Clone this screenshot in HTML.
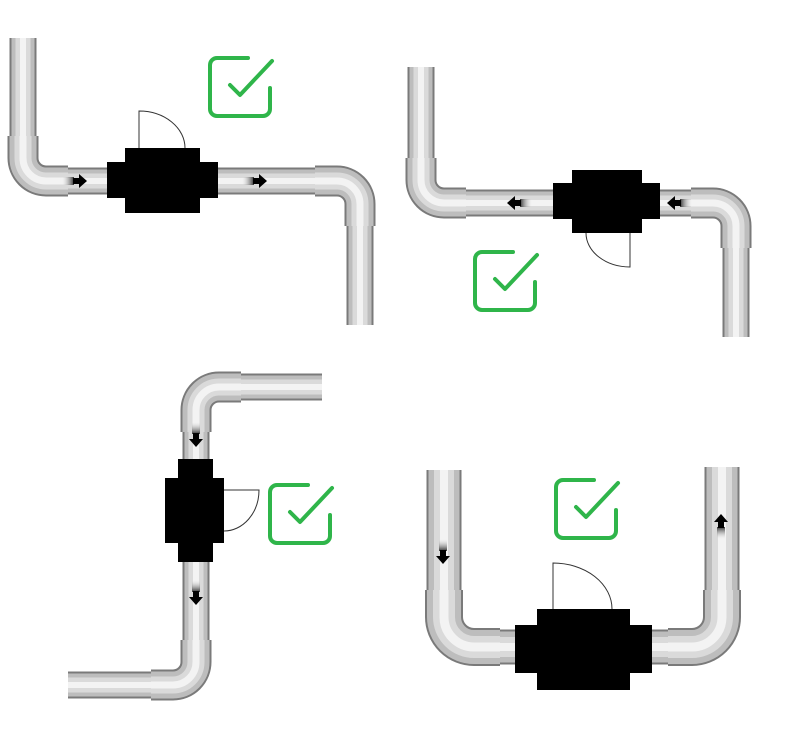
<!DOCTYPE html>
<html><head><meta charset="utf-8"><style>html,body{margin:0;padding:0;background:#fff}svg{display:block}</style></head>
<body>
<svg width="785" height="730" viewBox="0 0 785 730" xmlns="http://www.w3.org/2000/svg">
<defs>
<linearGradient id="tail" x1="0" y1="0" x2="1" y2="0">
<stop offset="0" stop-color="#ddd" stop-opacity="0"/><stop offset="1" stop-color="#333"/>
</linearGradient>
<g id="arr"><rect x="-18" y="-4" width="12" height="8" fill="url(#tail)"/><path d="M-7 -3 H-1 V-7 L7 0 L-1 7 V3 H-7Z" fill="#000"/></g>
<g id="cb" fill="none" stroke="#2fb54a" stroke-width="4" stroke-linecap="round" stroke-linejoin="round">
<path d="M40 2 H9 A7 7 0 0 0 2 9 V53 A7 7 0 0 0 9 60 H55 A7 7 0 0 0 62 53 V32"/>
<path d="M22 29 L32 39 L64 5"/>
</g>
</defs>
<g fill="none" stroke-linejoin="round">
<path id="a1" d="M23 38 V158 A23 23 0 0 0 46 181 H110 M215 181 H337 A23 23 0 0 1 360 204 V325 M421 67 V180 A23 23 0 0 0 444 203 H556 M656 203 H713 A23 23 0 0 1 736 226 V337 M322 387 H219 A23 23 0 0 0 196 410 V462 M196 560 V662 A23 23 0 0 1 173 685 H68"/>
<use href="#a1" stroke="#7a7a7a" stroke-width="27"/>
<use href="#a1" stroke="#bdbdbd" stroke-width="23"/>
<use href="#a1" stroke="#dadada" stroke-width="15"/>
<use href="#a1" stroke="#f3f3f3" stroke-width="6"/>
<path id="e1" d="M23 136 V158 A23 23 0 0 0 46 181 H68 M315 181 H337 A23 23 0 0 1 360 204 V226 M421 158 V180 A23 23 0 0 0 444 203 H466 M691 203 H713 A23 23 0 0 1 736 226 V248 M241 387 H219 A23 23 0 0 0 196 410 V432 M196 640 V662 A23 23 0 0 1 173 685 H151"/>
<use href="#e1" stroke="#7a7a7a" stroke-width="31"/>
<use href="#e1" stroke="#bdbdbd" stroke-width="27"/>
<use href="#e1" stroke="#dadada" stroke-width="17"/>
<use href="#e1" stroke="#f3f3f3" stroke-width="7"/>
<path id="a2" d="M444 470 V617 A30 30 0 0 0 474 647 H518 M650 647 H692 A30 30 0 0 0 722 617 V467"/>
<use href="#a2" stroke="#7a7a7a" stroke-width="35"/>
<use href="#a2" stroke="#bdbdbd" stroke-width="31"/>
<use href="#a2" stroke="#dadada" stroke-width="20"/>
<use href="#a2" stroke="#f3f3f3" stroke-width="8"/>
<path id="e2" d="M444 590 V617 A30 30 0 0 0 474 647 H500 M668 647 H692 A30 30 0 0 0 722 617 V590"/>
<use href="#e2" stroke="#7a7a7a" stroke-width="38"/>
<use href="#e2" stroke="#bdbdbd" stroke-width="34"/>
<use href="#e2" stroke="#dadada" stroke-width="22"/>
<use href="#e2" stroke="#f3f3f3" stroke-width="9"/>
</g>
<g fill="#000">
<rect x="107" y="162" width="111" height="36"/><rect x="125" y="148" width="75" height="65"/>
<rect x="553" y="183" width="107" height="36"/><rect x="572" y="170" width="70" height="63"/>
<rect x="178" y="459" width="35" height="103"/><rect x="165" y="478" width="59" height="65"/>
<rect x="515" y="625" width="137" height="48"/><rect x="537" y="609" width="93" height="81"/>
</g>
<g fill="none" stroke="#333" stroke-width="1">
<path d="M139 148 V111 A46 37 0 0 1 185 148"/>
<path d="M630 233 V267 A44 34 0 0 1 586 233"/>
<path d="M224 490 H259 A35 41 0 0 1 224 531"/>
<path d="M553 609 V563 A59 46 0 0 1 612 609"/>
</g>
<use href="#arr" transform="translate(80 181)"/>
<use href="#arr" transform="translate(260 181)"/>
<use href="#arr" transform="translate(514 203) rotate(180)"/>
<use href="#arr" transform="translate(674 203) rotate(180)"/>
<use href="#arr" transform="translate(196 440) rotate(90)"/>
<use href="#arr" transform="translate(196 598) rotate(90)"/>
<use href="#arr" transform="translate(443 557) rotate(90)"/>
<use href="#arr" transform="translate(721 521) rotate(-90)"/>
<use href="#cb" transform="translate(208 56)"/>
<use href="#cb" transform="translate(473 250)"/>
<use href="#cb" transform="translate(268 483)"/>
<use href="#cb" transform="translate(554 478)"/>
</svg>
</body></html>
